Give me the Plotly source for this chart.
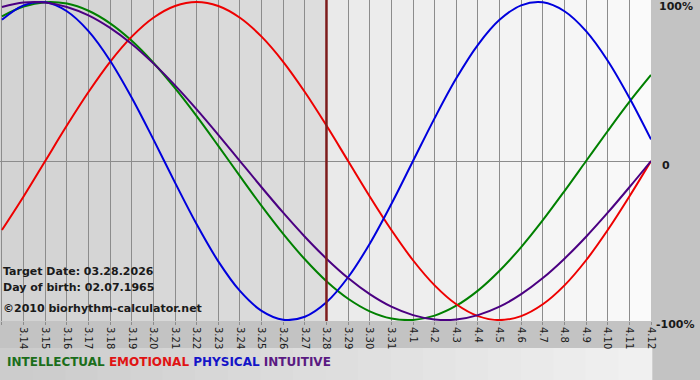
import plotly.graph_objects as go

dates = ["3.13", "3.14", "3.15", "3.16", "3.17", "3.18", "3.19", "3.20", "3.21", "3.22",
         "3.23", "3.24", "3.25", "3.26", "3.27", "3.28", "3.29", "3.30", "3.31", "4.1",
         "4.2", "4.3", "4.4", "4.5", "4.6", "4.7", "4.8", "4.9", "4.10", "4.11", "4.12"]

intellectual = [0.910, 0.972, 0.999, 0.990, 0.945, 0.866, 0.756, 0.618, 0.458, 0.282,
                0.095, -0.095, -0.282, -0.458, -0.618, -0.756, -0.866, -0.945, -0.990, -0.999,
                -0.972, -0.910, -0.815, -0.690, -0.541, -0.372, -0.189, 0.0, 0.189, 0.372, 0.541]
emotional = [-0.434, -0.223, 0.0, 0.223, 0.434, 0.624, 0.782, 0.901, 0.975, 1.0,
             0.975, 0.901, 0.782, 0.624, 0.434, 0.223, 0.0, -0.223, -0.434, -0.624,
             -0.782, -0.901, -0.975, -1.0, -0.975, -0.901, -0.782, -0.624, -0.434, -0.223, 0.0]
physical = [0.888, 0.979, 0.998, 0.942, 0.817, 0.631, 0.398, 0.136, -0.136, -0.398,
            -0.631, -0.817, -0.942, -0.998, -0.979, -0.888, -0.731, -0.520, -0.270, 0.0,
            0.270, 0.520, 0.731, 0.888, 0.979, 0.998, 0.942, 0.817, 0.631, 0.398, 0.136]
intuitive = [0.969, 0.997, 0.997, 0.969, 0.916, 0.837, 0.736, 0.614, 0.476, 0.325,
             0.165, 0.0, -0.165, -0.325, -0.476, -0.614, -0.736, -0.837, -0.916, -0.969,
             -0.997, -0.997, -0.969, -0.916, -0.837, -0.736, -0.614, -0.476, -0.325, -0.165, 0.0]

target_label = "3.28"
info_lines = ["Target Date: 03.28.2026", "Day of birth: 02.07.1965", "©2010 biorhythm-calculator.net"]
y_labels = ["100%", "0", "-100%"]
y_values = [1, 0, -1]

series = [
    ("INTELLECTUAL", intellectual, "#008000", "#1b6e1b"),
    ("EMOTIONAL", emotional, "#ee0000", "#e01414"),
    ("PHYSICAL", physical, "#0000dd", "#1414c8"),
    ("INTUITIVE", intuitive, "#4b0082", "#5a1a82"),
]

xs = list(range(len(dates)))
t_idx = dates.index(target_label)
n = len(dates) - 1

W, H = 700, 380
ML, MR, MT, MB = 0, 49, 0, 59
plot_h = H - MT - MB


def py(pix):
    """pixel row (from top) -> paper y"""
    return 1 - (pix - MT) / plot_h


fig = go.Figure()
for name, vals, col, _ in series:
    fig.add_trace(go.Scatter(x=xs, y=vals, mode="lines", name=name,
                             line=dict(color=col, width=2, shape="spline", smoothing=1.0),
                             cliponaxis=False, hoverinfo="skip"))

shapes = []
for i in range(n):
    if i < t_idx:
        g = int(0xd3 + (0xdd - 0xd3) * i / max(t_idx - 1, 1))
    else:
        g = int(0xea + (0xfa - 0xea) * (i - t_idx) / max(n - 1 - t_idx, 1))
    x0 = i if i > 0 else -0.2
    shapes.append(dict(type="rect", xref="x", yref="paper", x0=x0, x1=i + 1, y0=0, y1=1,
                       fillcolor=f"rgb({g},{g},{g})", line=dict(width=0), layer="below"))
# bottom area gradient (legend band)
for j in range(20):
    g = int(0xcc + (0xf0 - 0xcc) * j / 19)
    shapes.append(dict(type="rect", xref="paper", yref="paper", x0=j / 20, x1=(j + 1) / 20 + 0.002,
                       y0=py(H), y1=py(348), fillcolor=f"rgb({g},{g},{g})", line=dict(width=0),
                       layer="below"))
shapes.append(dict(type="line", xref="x", yref="paper", x0=t_idx, x1=t_idx, y0=0, y1=1,
                   line=dict(color="#7d1c1c", width=2.5)))

annotations = []
for lab, yv in zip(y_labels, y_values):
    annotations.append(dict(x=1, xref="paper", y=yv, yref="y", text=f"<b>{lab}</b>", showarrow=False,
                            xanchor="left", yanchor="middle",
                            xshift={"100%": 6, "0": 9, "-100%": 3}[lab], yshift=-4,
                            font=dict(family="DejaVu Sans", size=11, color="#1a1a1a")))
for k, line in enumerate(info_lines):
    annotations.append(dict(x=0, xref="paper", y=py([271, 287, 308][k]), yref="paper",
                            text=f"<b>{line}</b>", showarrow=False, xanchor="left", yanchor="middle",
                            xshift=1, font=dict(family="DejaVu Sans", size=11, color="#1a1a1a")))

legend_html = " ".join(f"<span style='color:{tc}'>{name}</span>" for name, _, _, tc in series)
annotations.append(dict(x=0, xref="paper", y=py(362), yref="paper",
                        text=f"<b>{legend_html}</b>", showarrow=False, xanchor="left", yanchor="middle",
                        xshift=5, font=dict(family="DejaVu Sans", size=12)))

fig.update_layout(
    width=W, height=H,
    margin=dict(l=ML, r=MR, t=MT, b=MB, autoexpand=False),
    paper_bgcolor="#c3c3c3",
    plot_bgcolor="#e6e6e6",
    showlegend=False,
    shapes=shapes,
    annotations=annotations,
    xaxis=dict(range=[-0.09, n], tickmode="array", tickvals=xs, ticktext=dates, tickangle=90,
               showgrid=True, gridcolor="#8c8c8c", gridwidth=1, zeroline=False,
               ticks="outside", ticklen=3, tickcolor="#8c8c8c", automargin=False,
               tickfont=dict(family="DejaVu Sans", size=10, color="#1a1a1a"), fixedrange=True),
    yaxis=dict(range=[-1.006, 1.0126], tickvals=[0], showticklabels=False, showgrid=True,
               gridcolor="#8c8c8c", zeroline=False, fixedrange=True, automargin=False),
)

fig.write_html("out.html", config={"displayModeBar": False},
               post_script="document.body.style.margin='0px';document.body.style.overflow='hidden';")
